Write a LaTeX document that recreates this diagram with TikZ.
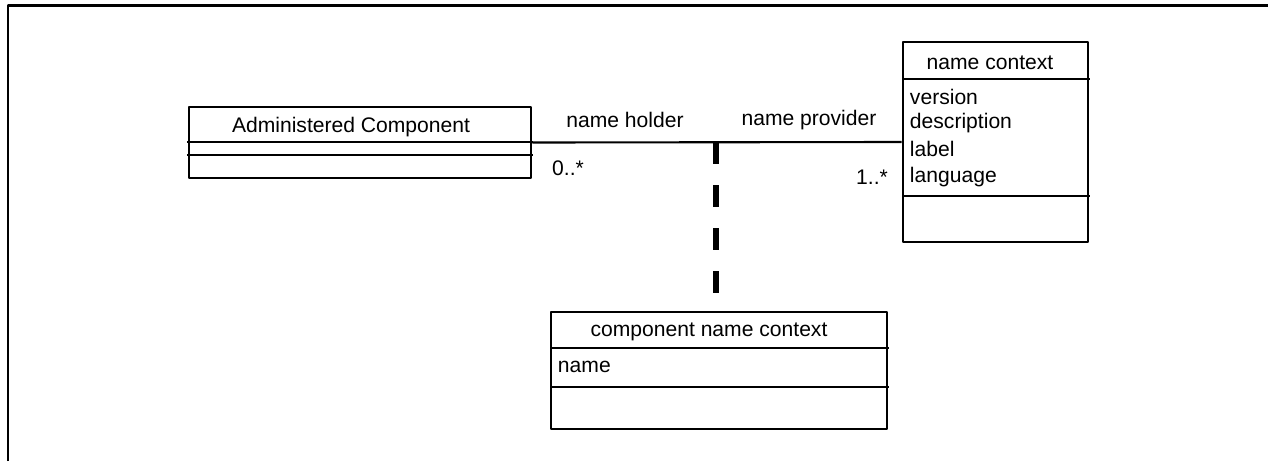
\documentclass[tikz,border=0pt]{standalone}
\usepackage{fontspec}
\setmainfont{Liberation Sans}
\begin{document}
\begin{tikzpicture}[x=0.025cm, y=-0.025cm, font=\fontsize{15}{18}\selectfont, line join=round, line cap=round,
		classbox/.style={draw, line width=1.8pt, inner sep=0pt},
		sepline/.style={line width=1.8pt, line cap=butt},
		assoc/.style={line width=1.5pt, line cap=butt},
		dep/.style={line width=4.3pt, line cap=butt, dash pattern=on 0.55cm off 0.525cm}]
			\useasboundingbox (0,0) rectangle (1268,461);
			% Khung
			\draw[sepline] (8,461) -- (8,5.5) -- (1268,5.5);
			
			% Các lớp
			\node[classbox, minimum width=8.55cm, minimum height=1.775cm] (ac) at (360,142.5) {};
			\node (acname) at (351,127) {Administered Component};
			\draw[sepline] (187,142) -- (533,142);
			\draw[sepline] (187,155) -- (533,155);
			
			\node[classbox, minimum width=4.625cm, minimum height=5cm] (nc) at (995.5,142) {};
			\node (ncname) at (990,63) {name context};
			\draw[sepline] (903,79) -- (1090,79);
			\draw[sepline] (903,196) -- (1090,196);
			\foreach \t/\y in {version/97, description/123, label/149, language/177}
				\node[anchor=west] (nc-\t) at (905,\y) {\t};
			
			\node[classbox, minimum width=8.4cm, minimum height=2.925cm] (cnc) at (719,370.5) {};
			\node (cncname) at (709,332) {component name context};
			\draw[sepline] (551,348) -- (889,348);
			\draw[sepline] (551,387) -- (889,387);
			\node[anchor=west] (cnc-name) at (553,367) {name};
			
			% Liên kết
			\draw[assoc] (ac.east) -- (nc.west);
			\node (holder) at (625,120) {name holder};
			\node (provider) at (809,120) {name provider};
			\node (mult-ac) at (568,168) {0..*};
			\node (mult-nc) at (872,177) {1..*};
			\coordinate (mid) at (716,142);
			\draw[dep] (mid) -- (mid |- cnc.north);
	\end{tikzpicture}
\end{document}
